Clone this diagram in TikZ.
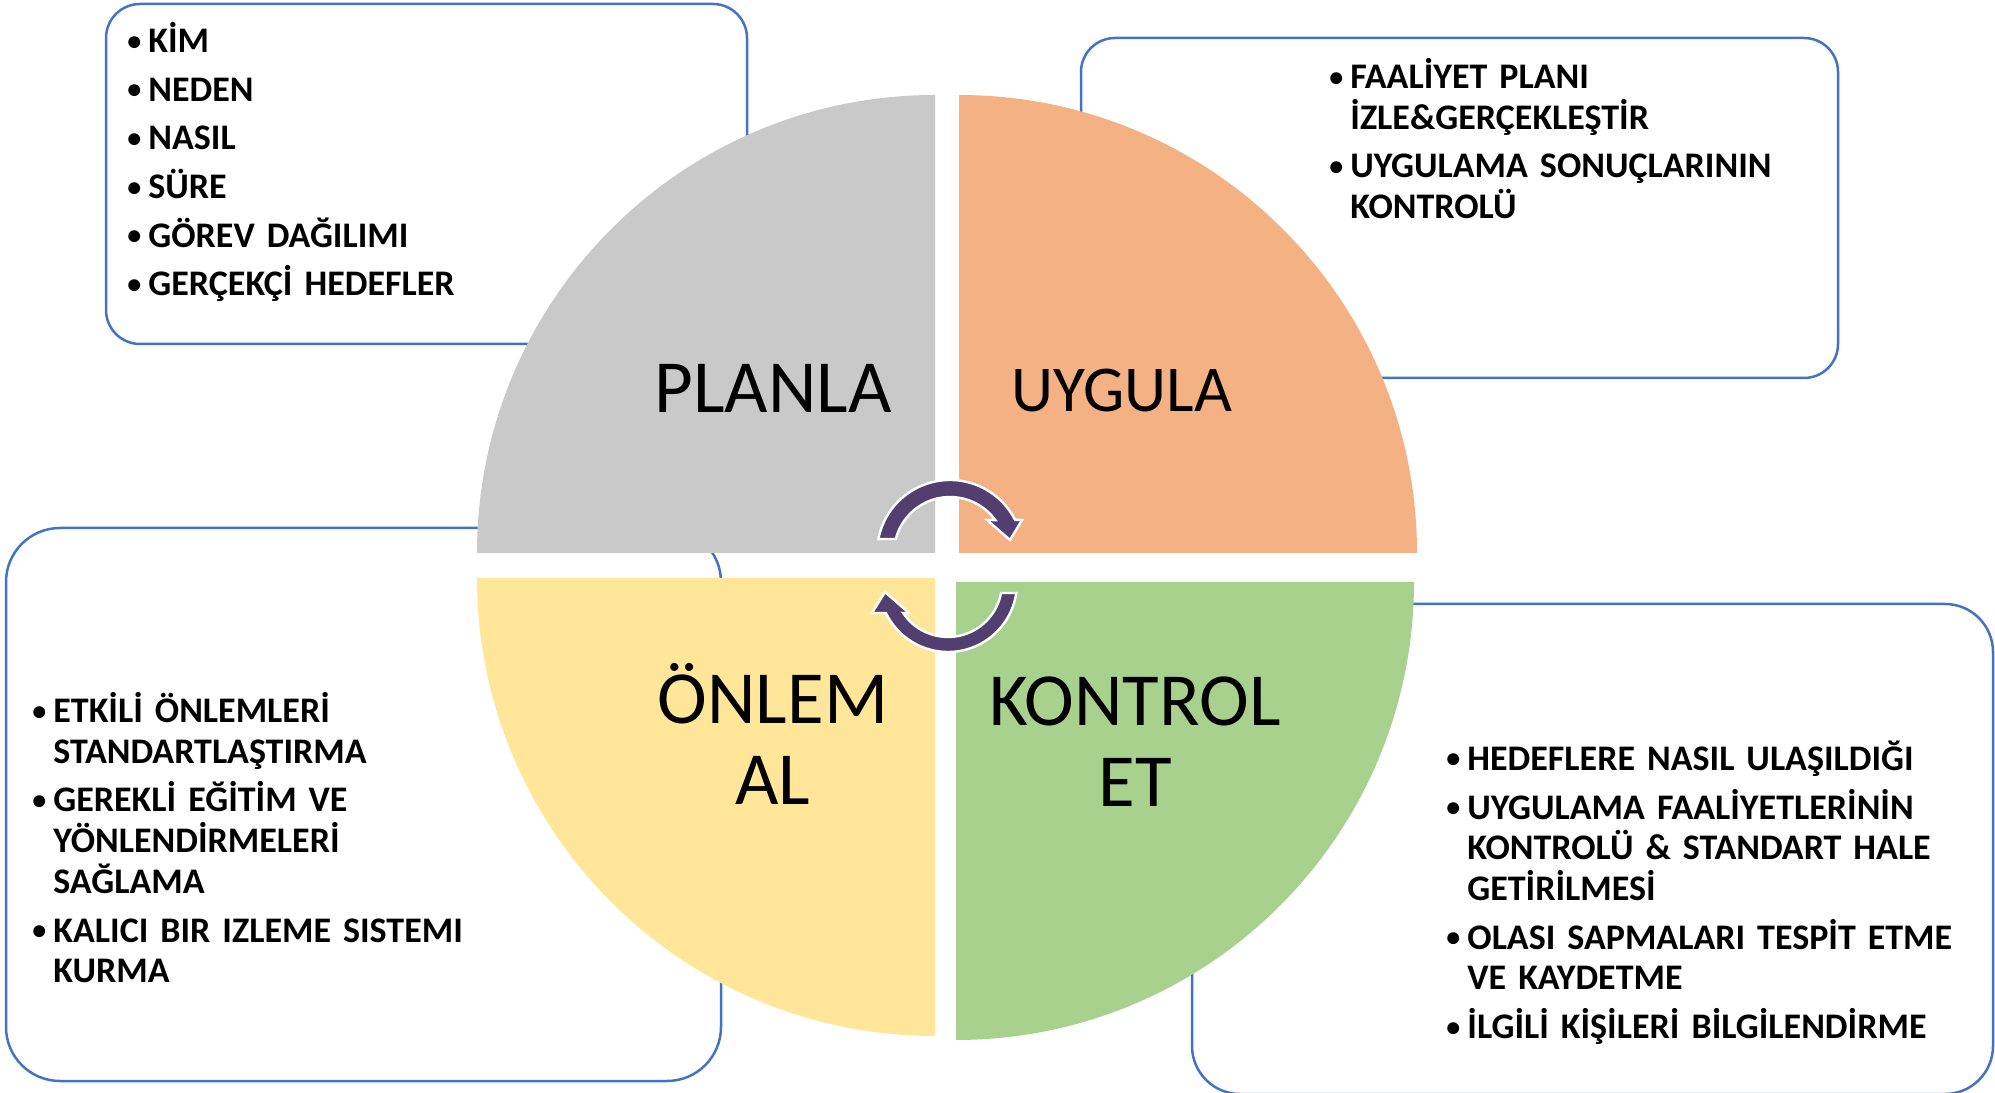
\documentclass[tikz,border=0pt]{standalone}
\usepackage{fontspec}
\setmainfont{Carlito}
\usepackage{tikz}

\definecolor{frameblue}{HTML}{4472C4}
\definecolor{plangray}{HTML}{C9C9C9}
\definecolor{doorange}{HTML}{F4B183}
\definecolor{actyellow}{HTML}{FFE699}
\definecolor{checkgreen}{HTML}{A9D18E}
\definecolor{cyclepurple}{HTML}{523F70}

\newcommand{\itm}[1]{\noindent\hangindent=10.5pt\hangafter=1\makebox[10.5pt][l]{\raisebox{1.2pt}{\fontsize{14}{14}\selectfont\textbullet}}#1\par}

\begin{document}
\begin{tikzpicture}[x=0.5pt,y=0.5pt,
    frame/.style={draw=frameblue,line width=1.25pt,fill=white},
    listbox/.style={anchor=north west,inner sep=0pt,text width=290pt,align=left,
        font=\fontsize{18}{20.35}\selectfont\bfseries\setlength{\parskip}{4pt}},
    biglabel/.style={inner sep=0pt,align=center,font=\fontsize{37.5}{40.5}\selectfont},
    cycle/.style={fill=cyclepurple,draw=white,line width=1.2pt}]
\useasboundingbox (0,0) rectangle (1995,1092);

% kutular
\draw[frame,rounded corners=17pt] (106,748) rectangle (747,1088);
\draw[frame,rounded corners=17pt] (1081,714) rectangle (1838,1054);
\draw[frame,rounded corners=27pt] (6,11) rectangle (721,564);
\draw[frame,rounded corners=24pt] (1192,-2) rectangle (1993,488);

\node[listbox] (plan-list) at (127,1070) {\itm{\rule{0pt}{15pt}KİM}\itm{NEDEN}\itm{NASIL}\itm{SÜRE}\itm{GÖREV DAĞILIMI}\itm{GERÇEKÇİ HEDEFLER}};
\node[listbox] (do-list) at (1329,1034) {\itm{\rule{0pt}{15pt}FAALİYET PLANI\newline İZLE\&GERÇEKLEŞTİR}\itm{UYGULAMA SONUÇLARININ\newline KONTROLÜ}};
\node[listbox] (act-list) at (32,400) {\itm{\rule{0pt}{15pt}ETKİLİ ÖNLEMLERİ\newline STANDARTLAŞTIRMA}\itm{GEREKLİ EĞİTİM VE\newline YÖNLENDİRMELERİ\newline SAĞLAMA}\itm{KALICI BIR IZLEME SISTEMI\newline KURMA}};
\node[listbox] (check-list) at (1446,352) {\itm{\rule{0pt}{15pt}HEDEFLERE NASIL ULAŞILDIĞI}\itm{UYGULAMA FAALİYETLERİNİN\newline KONTROLÜ \& STANDART HALE\newline GETİRİLMESİ}\itm{OLASI SAPMALARI TESPİT ETME\newline VE KAYDETME}\itm{İLGİLİ KİŞİLERİ BİLGİLENDİRME}};

% daire dilimleri
\fill[plangray] (935,539) -- ++(-458,0) arc (180:90:458) -- cycle;
\fill[doorange] (959,539) -- ++(0,458) arc (90:0:458) -- cycle;
\fill[actyellow] (935,514) -- ++(0,-458) arc (270:180:458) -- cycle;
\fill[checkgreen] (956,510) -- ++(458,0) arc (0:-90:458) -- cycle;

\node[biglabel,anchor=base] (plan) at (773,679) {PLANLA};
\node[biglabel,anchor=base,font=\fontsize{32.7}{36}\selectfont] (do) at (1122,680) {UYGULA};
\node[biglabel,anchor=north] (act) at (773,437) {\rule{0pt}{34pt}ÖNLEM\\AL};
\node[biglabel,anchor=north] (check) at (1135,435) {\rule{0pt}{34pt}KONTROL\\ET};

% donen oklar
\coordinate (c1) at (950,539);
\coordinate (c2) at (948,509);
\draw[cycle] ([shift={(169:73)}]c1) arc (169:27:73) -- (1022,572) -- (1010,552) -- (987,572)
    -- ([shift={(36:56)}]c1) arc (36:165.5:56) -- cycle;
\draw[cycle] ([shift={(-8.3:69)}]c2) arc (-8.3:-154.2:69) -- (872,479) -- (885,500) -- (909,479)
    -- ([shift={(-146.3:54)}]c2) arc (-146.3:-10.7:54) -- cycle;
\end{tikzpicture}
\end{document}
